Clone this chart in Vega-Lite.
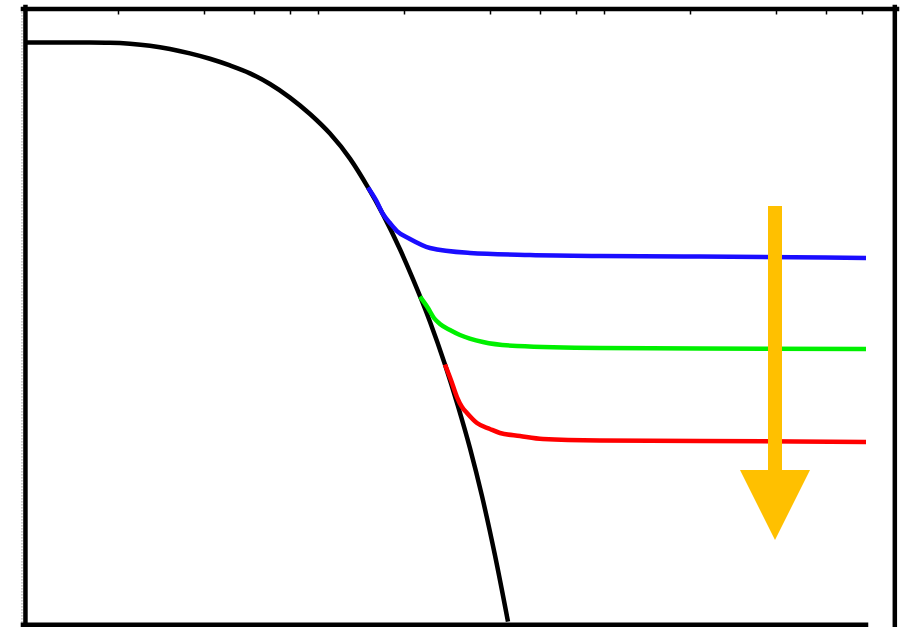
{
  "$schema": "https://vega.github.io/schema/vega-lite/v6.json",
  "width": 840,
  "height": 616,
  "autosize": {"type": "none"},
  "padding": {"left": 26, "top": 9, "right": 41, "bottom": 2},
  "background": "white",
  "config": {"view": {"stroke": null}},
  "datasets": {
    "base": [
      {"x": 0.477, "y": 0.9456},
      {"x": 0.627, "y": 0.9456},
      {"x": 0.7983, "y": 0.9455},
      {"x": 0.9376, "y": 0.9451},
      {"x": 1.1015, "y": 0.9435},
      {"x": 1.2938, "y": 0.9403},
      {"x": 1.52, "y": 0.9351},
      {"x": 1.7855, "y": 0.9279},
      {"x": 2.0964, "y": 0.9192},
      {"x": 2.4638, "y": 0.9084},
      {"x": 2.8942, "y": 0.8955},
      {"x": 3.4, "y": 0.8782},
      {"x": 3.994, "y": 0.8562},
      {"x": 4.6917, "y": 0.8295},
      {"x": 5.5113, "y": 0.7977},
      {"x": 6.4742, "y": 0.7571},
      {"x": 7.484, "y": 0.7104},
      {"x": 8.4444, "y": 0.6666},
      {"x": 9.683, "y": 0.6099},
      {"x": 10.751, "y": 0.5614},
      {"x": 12.329, "y": 0.4924},
      {"x": 13.911, "y": 0.4229},
      {"x": 15.446, "y": 0.3554},
      {"x": 17.012, "y": 0.2872},
      {"x": 18.739, "y": 0.2093},
      {"x": 20.805, "y": 0.1131},
      {"x": 23.102, "y": 0.0055}
    ],
    "branches": [
      {"series": "blue", "x": 7.484, "y": 0.7104},
      {"series": "blue", "x": 7.982, "y": 0.6899},
      {"series": "blue", "x": 8.444, "y": 0.6672},
      {"series": "blue", "x": 8.934, "y": 0.6526},
      {"series": "blue", "x": 9.452, "y": 0.6396},
      {"series": "blue", "x": 10.495, "y": 0.6266},
      {"series": "blue", "x": 12.329, "y": 0.612},
      {"series": "blue", "x": 17.012, "y": 0.6039},
      {"series": "blue", "x": 27.578, "y": 0.6006},
      {"series": "blue", "x": 48.452, "y": 0.599},
      {"series": "blue", "x": 108.38, "y": 0.5982},
      {"series": "blue", "x": 412.46, "y": 0.5958},
      {"series": "green", "x": 11.374, "y": 0.533},
      {"series": "green", "x": 12.132, "y": 0.5146},
      {"series": "green", "x": 12.732, "y": 0.4984},
      {"series": "green", "x": 13.362, "y": 0.4886},
      {"series": "green", "x": 14.482, "y": 0.4789},
      {"series": "green", "x": 15.696, "y": 0.4708},
      {"series": "green", "x": 18.89, "y": 0.4594},
      {"series": "green", "x": 24.837, "y": 0.4529},
      {"series": "green", "x": 48.452, "y": 0.4497},
      {"series": "green", "x": 108.38, "y": 0.4489},
      {"series": "green", "x": 412.46, "y": 0.4481},
      {"series": "red", "x": 13.911, "y": 0.4229},
      {"series": "red", "x": 14.599, "y": 0.3977},
      {"series": "red", "x": 15.322, "y": 0.3701},
      {"series": "red", "x": 15.952, "y": 0.3539},
      {"series": "red", "x": 16.607, "y": 0.3442},
      {"series": "red", "x": 17.999, "y": 0.3279},
      {"series": "red", "x": 19.985, "y": 0.3182},
      {"series": "red", "x": 21.661, "y": 0.3117},
      {"series": "red", "x": 25.445, "y": 0.3068},
      {"series": "red", "x": 30.62, "y": 0.3019},
      {"series": "red", "x": 48.452, "y": 0.2995},
      {"series": "red", "x": 108.38, "y": 0.2987},
      {"series": "red", "x": 412.46, "y": 0.2971}
    ],
    "frame": [
      {"side": "top", "x": 0.4655, "x2": 529.45, "y": 1.0, "y2": 1.0},
      {"side": "left", "x": 0.4749, "x2": 0.4749, "y": 1.0032, "y2": -0.0032},
      {"side": "bottom", "x": 0.4655, "x2": 412.46, "y": 0.0005, "y2": 0.0005},
      {"side": "right", "x": 520.16, "x2": 520.16, "y": 1.0032, "y2": -0.01}
    ],
    "edge": [
      {"x": 0.4618, "x2": 0.4618, "y": 0.995, "y2": 0.0}
    ],
    "shaft": [
      {"x": 198.26, "x2": 198.26, "y": 0.6802, "y2": 0.25}
    ],
    "head": [
      {"x": 198.26, "y": 0.1948}
    ]
  },
  "encoding": {
    "x": {
      "field": "x",
      "type": "quantitative",
      "scale": {"type": "log", "domain": [0.477, 412.46], "nice": false, "zero": false},
      "axis": {
        "orient": "top",
        "values": [1, 2, 3, 4, 5, 10, 20, 30, 40, 50, 100, 200, 300, 400],
        "labels": false,
        "domain": false,
        "grid": false,
        "title": null,
        "ticks": true,
        "tickSize": -5,
        "tickWidth": 1.5,
        "tickColor": "black",
        "offset": 0
      }
    },
    "y": {
      "field": "y",
      "type": "quantitative",
      "scale": {"domain": [0, 1], "nice": false, "zero": false},
      "axis": null
    }
  },
  "layer": [
    {
      "data": {"name": "base"},
      "mark": {"type": "line", "color": "black", "strokeWidth": 4.5, "interpolate": "monotone", "strokeJoin": "round"}
    },
    {
      "data": {"name": "branches"},
      "mark": {"type": "line", "strokeWidth": 4.5, "interpolate": "monotone", "strokeJoin": "round"},
      "encoding": {
        "color": {
          "field": "series",
          "type": "nominal",
          "scale": {"domain": ["blue", "green", "red"], "range": ["#1a0dff", "#00f000", "#ff0000"]},
          "legend": null
        }
      }
    },
    {
      "data": {"name": "edge"},
      "mark": {"type": "rule", "color": "#9a9a9a", "strokeWidth": 1, "strokeDash": [1.5, 1.5], "clip": false},
      "encoding": {"x2": {"field": "x2"}, "y2": {"field": "y2"}}
    },
    {
      "data": {"name": "frame"},
      "mark": {"type": "rule", "color": "black", "strokeWidth": 4.5, "strokeCap": "square", "clip": false},
      "encoding": {"x2": {"field": "x2"}, "y2": {"field": "y2"}}
    },
    {
      "data": {"name": "shaft"},
      "mark": {"type": "rule", "color": "#ffc000", "strokeWidth": 14, "strokeCap": "butt"},
      "encoding": {"x2": {"field": "x2"}, "y2": {"field": "y2"}}
    },
    {
      "data": {"name": "head"},
      "mark": {"type": "point", "shape": "M-1,-1L1,-1L0,1Z", "filled": true, "color": "#ffc000", "opacity": 1, "size": 4900, "strokeWidth": 0}
    }
  ]
}
